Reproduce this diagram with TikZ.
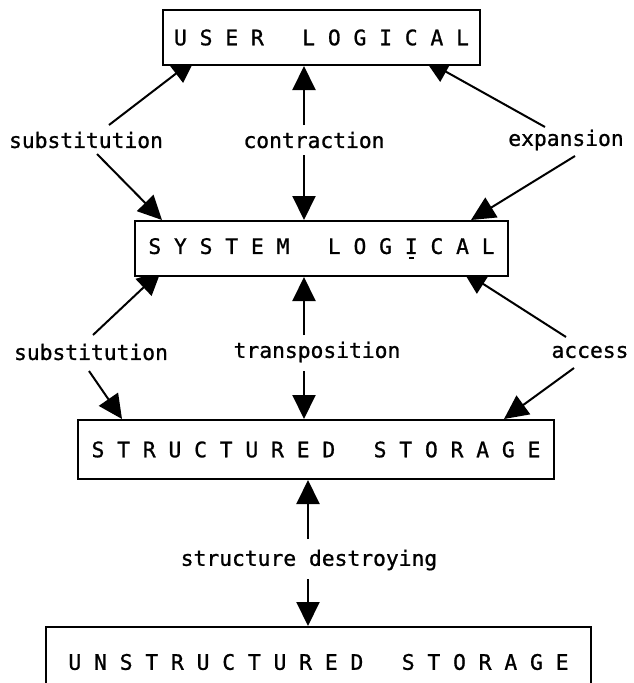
\documentclass[tikz,border=0pt]{standalone}
\usepackage{fontspec}
% slightly heavy typewriter lettering
\newfontfamily\typewriter{DejaVu Sans Mono}[FakeBold=1]
\usetikzlibrary{arrows.meta,calc,backgrounds}
% capital I with the small stroke set under it
\newcommand{\markedI}{\ooalign{I\cr\hfil\raisebox{-5pt}{\rule{5pt}{1.5pt}}\hfil\cr}}
\begin{document}
\begin{tikzpicture}[x=1pt,y=-1pt,
  typed/.style={font=\typewriter\fontsize{21.3}{24}\selectfont},
  box/.style={typed, draw, line width=2pt, fill=white, inner sep=0pt},
  lab/.style={typed, inner sep=0pt},
  link/.style={line width=2pt, -{Triangle[length=24pt,width=23pt]}}]
\useasboundingbox (0,0) rectangle (634,683);

% levels
\node[box, minimum width=317, minimum height=55] (b1) at (321.5,37.5)
  {U~S~E~R~~~L~O~G~I~C~A~L};
\node[box, minimum width=373, minimum height=55] (b2) at (321.5,248.5)
  {S~Y~S~T~E~M~~~L~O~G~\markedI~C~A~L};
\node[box, minimum width=476, minimum height=59] (b3) at (316,449.5)
  {S~T~R~U~C~T~U~R~E~D~~~S~T~O~R~A~G~E};
\node[box, minimum width=545, minimum height=70] (b4) at (318.5,662)
  {U~N~S~T~R~U~C~T~U~R~E~D~~~S~T~O~R~A~G~E};

% transformations
\node[lab] (l1a) at (86,140) {substitution};
\node[lab] (l1b) at (314,140) {contraction};
\node[lab] (l1c) at (566,140) {expansion};
\node[lab] (l2a) at (91,352) {substitution};
\node[lab] (l2b) at (317,352) {transposition};
\node[lab] (l2c) at (590,352) {access};
\node[lab] (l3) at (309,560) {structure destroying};

% arrow ends
\coordinate (t1) at ($(b1.south west)+(33,-7)$);
\coordinate (t2) at ($(b2.north west)+(28,0)$);
\coordinate (t3) at ($(b1.south)+(-17.5,0)$);
\coordinate (t4) at ($(b2.north)+(-17.5,0)$);
\coordinate (t5) at ($(b1.south east)+(-56,-6)$);
\coordinate (t6) at ($(b2.north east)+(-38,0)$);
\coordinate (t7) at ($(b2.south west)+(27,-6)$);
\coordinate (t8) at ($(b3.north west)+(45,0)$);
\coordinate (t9) at ($(b2.south)+(-17.5,0)$);
\coordinate (t10) at ($(b3.north)+(-12,0)$);
\coordinate (t11) at ($(b2.south east)+(-46,-6)$);
\coordinate (t12) at ($(b3.north east)+(-51,0)$);
\coordinate (t13) at ($(b3.south)+(-8,0)$);
\coordinate (t14) at ($(b4.north)+(-10.5,0)$);

\coordinate (s1) at ($(l1a)+(23,-15)$);
\coordinate (s2) at ($(l1a)+(11,14)$);
\coordinate (s3) at ($(l1b)+(-10,-15)$);
\coordinate (s4) at ($(l1b)+(-10,15)$);
\coordinate (s5) at ($(l1c)+(-21,-13)$);
\coordinate (s6) at ($(l1c)+(9,16)$);
\coordinate (s7) at ($(l2a)+(2,-17)$);
\coordinate (s8) at ($(l2a)+(-2,19)$);
\coordinate (s9) at ($(l2b)+(-13,-17)$);
\coordinate (s10) at ($(l2b)+(-13,19)$);
\coordinate (s11) at ($(l2c)+(-24,-15)$);
\coordinate (s12) at ($(l2c)+(-16,16)$);
\coordinate (s13) at ($(l3)+(-1,-21)$);
\coordinate (s14) at ($(l3)+(-1,19)$);

% connectors run under the boxes
\begin{pgfonlayer}{background}
\foreach \i in {1,...,14} {
  \draw[link] (s\i) -- (t\i);
}
\end{pgfonlayer}
\end{tikzpicture}
\end{document}
